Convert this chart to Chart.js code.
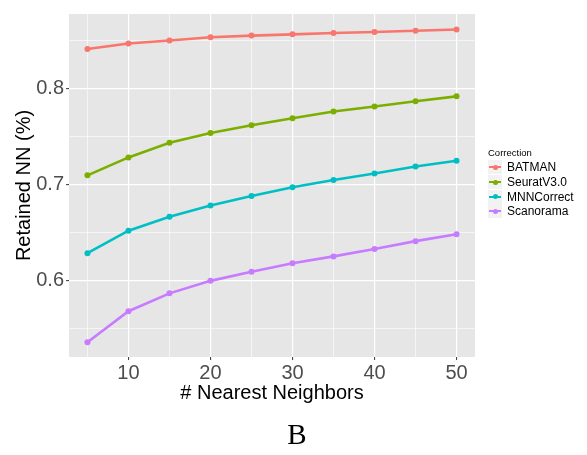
<!DOCTYPE html>
<html>
<head>
<meta charset="utf-8">
<script src="https://cdn.jsdelivr.net/npm/chart.js@4"></script>
<style>
  body { margin: 0; background: #fff; }
  #wrap { position: relative; width: 587px; height: 455px; }
  #legend { position: absolute; left: 488px; top: 147px; font-family: "Liberation Sans", Arial, sans-serif; }
  #legend .title { font-size: 9.5px; color: #000; margin-bottom: 2px; }
  #legend .row { display: flex; align-items: center; height: 14.7px; }
  #legend .key { position: relative; width: 14px; height: 14px; background: #F2F2F2; margin-right: 5px; }
  #legend .key .ln { position: absolute; left: 1px; right: 1px; top: 6px; height: 2px; }
  #legend .key .pt { position: absolute; left: 4.5px; top: 4.5px; width: 5px; height: 5px; border-radius: 50%; }
  #legend .lab { font-size: 12px; color: #000; }
  #label { position: absolute; left: 0; width: 594px; top: 418px; text-align: center;
           font-family: "Liberation Serif", "DejaVu Serif", serif; font-size: 29px; color: #000; }
</style>
</head>
<body>
<div id="wrap">
  <canvas id="chartElem" width="587" height="455"></canvas>
  <div id="legend"></div>
  <div id="label">B</div>
</div>
<script>
const neighbors = [5, 10, 15, 20, 25, 30, 35, 40, 45, 50];
const batman    = [0.8415, 0.8473, 0.8504, 0.8538, 0.8555, 0.8568, 0.8582, 0.8592, 0.8606, 0.8619];
const seurat    = [0.7099, 0.7286, 0.7439, 0.7541, 0.7622, 0.7694, 0.7765, 0.7816, 0.7871, 0.7922];
const mnn       = [0.6289, 0.6523, 0.6669, 0.6786, 0.6884, 0.6976, 0.7051, 0.7119, 0.7191, 0.7252];
const scanorama = [0.5360, 0.5684, 0.5870, 0.6000, 0.6095, 0.6184, 0.6255, 0.6333, 0.6414, 0.6486];

const seriesNames = ['BATMAN', 'SeuratV3.0', 'MNNCorrect', 'Scanorama'];
const seriesColors = ['#F8766D', '#7CAE00', '#00BFC4', '#C77CFF'];
const xTicks = [5, 10, 15, 20, 25, 30, 35, 40, 45, 50];
const yTicks = [0.55, 0.6, 0.65, 0.7, 0.75, 0.8, 0.85];

const makeDataset = (name, values, color) => ({
    label: name,
    data: neighbors.map((n, i) => ({ x: n, y: values[i] })),
    borderColor: color,
    backgroundColor: color,
    borderWidth: 2.6,
    pointRadius: 3,
    pointBorderWidth: 0,
    pointHoverRadius: 3,
    fill: false,
    tension: 0
});

const isMajorX = (v) => v % 10 === 0;
const isMajorY = (v) => Math.abs(v * 10 - Math.round(v * 10)) < 1e-6;

// grey panel behind the grid
const panelBg = {
    id: 'panelBg',
    beforeDraw(chart) {
        const { ctx, chartArea: a } = chart;
        ctx.save();
        ctx.fillStyle = '#E6E6E6';
        ctx.fillRect(a.left, a.top, a.right - a.left, a.bottom - a.top);
        ctx.restore();
    }
};

const chart = new Chart(document.getElementById('chartElem'), {
    type: 'line',
    data: {
        datasets: [
            makeDataset(seriesNames[0], batman, seriesColors[0]),
            makeDataset(seriesNames[1], seurat, seriesColors[1]),
            makeDataset(seriesNames[2], mnn, seriesColors[2]),
            makeDataset(seriesNames[3], scanorama, seriesColors[3])
        ]
    },
    options: {
        responsive: false,
        animation: false,
        layout: { padding: { top: 7, right: 112, bottom: 50, left: 0 } },
        plugins: { legend: { display: false }, tooltip: { enabled: false } },
        scales: {
            x: {
                type: 'linear',
                min: 2.75,
                max: 52.25,
                afterBuildTicks: (scale) => { scale.ticks = xTicks.map(v => ({ value: v })); },
                afterFit: (scale) => { scale.height = 48; },
                border: { display: false },
                grid: {
                    color: '#FFFFFF',
                    lineWidth: (c) => isMajorX(c.tick.value) ? 1.2 : 0.6,
                    tickColor: (c) => isMajorX(c.tick.value) ? '#333333' : 'rgba(0,0,0,0)',
                    tickLength: 3,
                    tickWidth: 1
                },
                ticks: {
                    autoSkip: false,
                    maxRotation: 0,
                    padding: 1,
                    color: '#4D4D4D',
                    font: { family: '"Liberation Sans", Arial, sans-serif', size: 20 },
                    callback: (v) => isMajorX(v) ? String(v) : ''
                },
                title: {
                    display: true,
                    text: '# Nearest Neighbors',
                    color: '#000',
                    padding: { top: 0, bottom: 0 },
                    font: { family: '"Liberation Sans", Arial, sans-serif', size: 20 }
                }
            },
            y: {
                min: 0.5207,
                max: 0.878,
                afterBuildTicks: (scale) => { scale.ticks = yTicks.map(v => ({ value: v })); },
                afterFit: (scale) => { scale.width = 69; },
                border: { display: false },
                grid: {
                    color: '#FFFFFF',
                    lineWidth: (c) => isMajorY(c.tick.value) ? 1.2 : 0.6,
                    tickColor: (c) => isMajorY(c.tick.value) ? '#333333' : 'rgba(0,0,0,0)',
                    tickLength: 3,
                    tickWidth: 1
                },
                ticks: {
                    autoSkip: false,
                    padding: 2,
                    color: '#4D4D4D',
                    font: { family: '"Liberation Sans", Arial, sans-serif', size: 20 },
                    callback: (v) => isMajorY(v) ? v.toFixed(1) : ''
                },
                title: {
                    display: true,
                    text: 'Retained NN (%)',
                    color: '#000',
                    padding: { top: 12, bottom: 0 },
                    font: { family: '"Liberation Sans", Arial, sans-serif', size: 20 }
                }
            }
        }
    },
    plugins: [panelBg]
});

// legend
const legend = document.getElementById('legend');
legend.innerHTML = '<div class="title">Correction</div>' + seriesNames.map((name, i) =>
    `<div class="row"><div class="key"><div class="ln" style="background:${seriesColors[i]}"></div>` +
    `<div class="pt" style="background:${seriesColors[i]}"></div></div><span class="lab">${name}</span></div>`
).join('');
</script>
</body>
</html>
